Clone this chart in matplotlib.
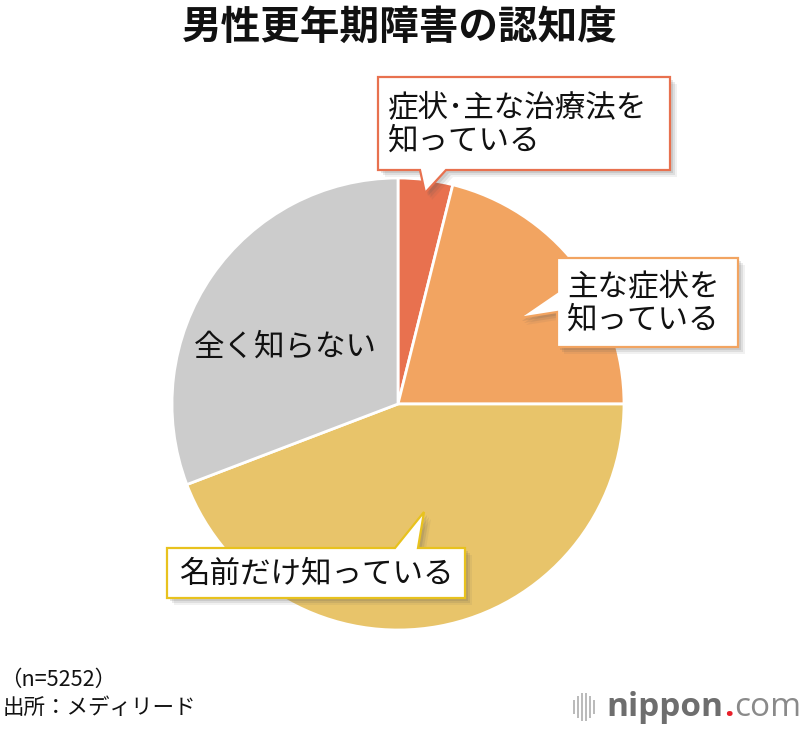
import matplotlib
matplotlib.use("Agg")
import matplotlib.pyplot as plt
from matplotlib.patches import Polygon, Rectangle

plt.rcParams['font.family'] = ['Noto Sans CJK JP', 'DejaVu Sans']

# data (share in %)
labels = ['症状･主な治療法を\n知っている', '主な症状を\n知っている', '名前だけ知っている', '全く知らない']
shares = [3.9, 21.1, 44.2, 30.8]
colors = ['#E8714F', '#F2A461', '#E8C46A', '#CCCCCC']
box_edges = ['#E8714F', '#F2A461', '#E8C21E', None]

title = '男性更年期障害の認知度'
note = '（n=5252）'
source = '出所：メディリード'

W, H = 800, 730
fig = plt.figure(figsize=(W / 100, H / 100), dpi=100)
ax = fig.add_axes([0, 0, 1, 1])


def Y(y):
    # pixel row (from top) -> data y
    return H - y


ax.pie(shares, colors=colors, startangle=90, counterclock=False,
       center=(398, Y(404)), radius=226, frame=True,
       wedgeprops=dict(edgecolor='white', linewidth=2))
ax.set_xlim(0, W)
ax.set_ylim(0, H)
ax.axis('off')


def callout(pts, edge, text, tx, ty):
    pts = [(x, Y(y)) for x, y in pts]
    for off, a in [(7, 0.08), (5, 0.12), (3, 0.15)]:
        sh = [(x + off, y - off) for x, y in pts]
        ax.add_patch(Polygon(sh, closed=True, facecolor='#555555', edgecolor='none', alpha=a, zorder=3))
    ax.add_patch(Polygon(pts, closed=True, facecolor='white', edgecolor=edge, linewidth=1.6, zorder=4))
    ax.text(tx, Y(ty), text, fontsize=22, ha='left', va='center', color='#111111',
            linespacing=1.1, zorder=5)


# box 1: tail on bottom edge
callout([(378, 77), (670, 77), (670, 170), (446, 170), (425, 193), (420, 170), (378, 170)],
        box_edges[0], labels[0], 388, 124)
# box 2: tail on left edge
callout([(557, 258), (738, 258), (738, 347), (557, 347), (557, 312), (519, 318), (557, 292)],
        box_edges[1], labels[1], 567, 303)
# box 3: tail on top edge
callout([(167, 548), (395, 548), (424, 512), (418, 548), (465, 548), (465, 598), (167, 598)],
        box_edges[2], labels[2], 179, 574)

ax.text(285, Y(347), labels[3], fontsize=22, ha='center', va='center', color='#111111')

ax.text(400, Y(27), title, fontsize=28.5, fontweight='bold', ha='center', va='center', color='#111111')

ax.text(0, Y(680), note, fontsize=15.5, ha='left', va='center', color='#111111')
ax.text(3, Y(708), source, fontsize=15.5, ha='left', va='center', color='#111111')

# logo
for i, (bx, bh) in enumerate([(573, 14), (577, 22), (581, 28), (585, 28), (589, 22), (593, 14)]):
    ax.add_patch(Rectangle((bx, Y(707) - bh / 2), 2, bh, facecolor='#BBBBBB', edgecolor='none'))
t1 = ax.text(606, Y(707), 'nippon', fontsize=24, fontweight='bold', ha='left', va='center',
             color='#6E6E6E', family='Open Sans')
fig.canvas.draw()
bb = t1.get_window_extent()
t2 = ax.text(bb.x1 + 1, Y(707), '.', fontsize=24, fontweight='bold', ha='left', va='center',
             color='#E8202A', family='Open Sans')
fig.canvas.draw()
bb2 = t2.get_window_extent()
ax.text(bb2.x1 + 1, Y(707), 'com', fontsize=24, ha='left', va='center',
        color='#8A8A8A', family='Open Sans')

fig.savefig('out.png', dpi=100)
